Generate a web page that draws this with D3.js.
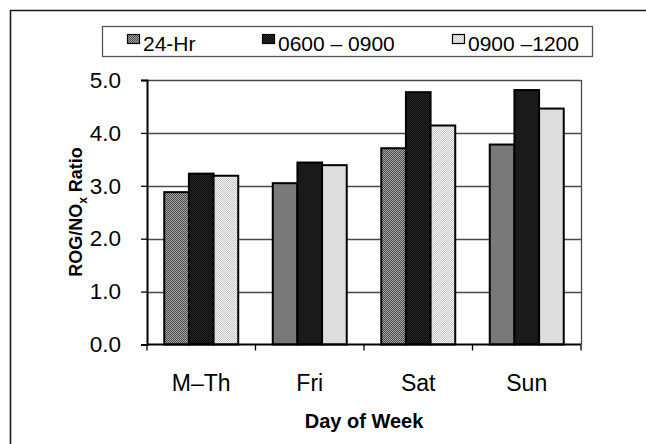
<!DOCTYPE html>
<html>
<head>
<meta charset="utf-8">
<script src="https://cdn.jsdelivr.net/npm/d3@7"></script>
<style>
  html, body { margin: 0; padding: 0; background: #fff; }
  svg { display: block; font-family: Arial, "Liberation Sans", Helvetica, sans-serif; }
</style>
</head>
<body>
<svg id="chart" width="646" height="444"></svg>
<script>
// Day-of-week groups
const categories = ["M\u2013Th", "Fri", "Sat", "Sun"];
// Averaging periods
const seriesNames = ["24-Hr", "0600 \u2013 0900", "0900 \u20131200"];
// ROG/NOx ratio per period, in category order
const values24Hr  = [2.88, 3.05, 3.71, 3.78];
const values0600  = [3.23, 3.44, 4.77, 4.81];
const values0900  = [3.19, 3.39, 4.14, 4.46];
const yTicks = [0, 1, 2, 3, 4, 5];

const seriesValues = [values24Hr, values0600, values0900];

const svg = d3.select("#chart");
const W = 646, H = 444;

// Dithered fills, one per series
const defs = svg.append("defs");
const fills = [
  { id: "fill24", a: "#4a4a4a", b: "#a8a8a8" },
  { id: "fill06", a: "#0a0a0a", b: "#2a2a2a" },
  { id: "fill09", a: "#c8c8c8", b: "#f2f2f2" }
];
fills.forEach(f => {
  const p = defs.append("pattern")
    .attr("id", f.id)
    .attr("patternUnits", "userSpaceOnUse")
    .attr("width", 2).attr("height", 2);
  p.append("rect").attr("width", 2).attr("height", 2).attr("fill", f.a);
  p.append("rect").attr("width", 1).attr("height", 1).attr("fill", f.b);
  p.append("rect").attr("x", 1).attr("y", 1).attr("width", 1).attr("height", 1).attr("fill", f.b);
});

// Outer frame (left and top edges)
svg.append("path")
  .attr("d", `M10.5,${H} V10.5 H${W}`)
  .attr("fill", "none")
  .attr("stroke", "#1a1a1a")
  .attr("stroke-width", 1.6);

const plot = { left: 147, right: 581, top: 80, bottom: 344.5 };

const x = d3.scaleBand()
  .domain(categories)
  .range([plot.left, plot.right])
  .paddingInner(0).paddingOuter(0);

// Excel-style gap width of 140% of one bar
const barW = x.bandwidth() / (seriesNames.length + 1.4);
const xs = d3.scaleBand()
  .domain(d3.range(seriesNames.length))
  .range([0.7 * barW, x.bandwidth() - 0.7 * barW])
  .padding(0);

const y = d3.scaleLinear()
  .domain([0, 5])
  .range([plot.bottom, plot.top]);

// Gridlines
svg.append("g")
  .selectAll("line")
  .data(yTicks.filter(t => t > 0))
  .join("line")
  .attr("x1", plot.left).attr("x2", plot.right)
  .attr("y1", d => Math.round(y(d)) + 0.5)
  .attr("y2", d => Math.round(y(d)) + 0.5)
  .attr("stroke", "#4a4a4a")
  .attr("stroke-width", 1.3);

// Plot area right edge
svg.append("line")
  .attr("x1", plot.right + 0.5).attr("x2", plot.right + 0.5)
  .attr("y1", y(5)).attr("y2", plot.bottom)
  .attr("stroke", "#4a4a4a")
  .attr("stroke-width", 1.3);

// Bars
const groups = svg.append("g")
  .selectAll("g")
  .data(categories)
  .join("g")
  .attr("transform", d => `translate(${x(d)},0)`);

groups.selectAll("rect")
  .data((c, ci) => seriesValues.map((vals, si) => ({ si, v: vals[ci] })))
  .join("rect")
  .attr("x", d => xs(d.si))
  .attr("width", xs.bandwidth())
  .attr("y", d => y(d.v))
  .attr("height", d => y(0) - y(d.v))
  .attr("fill", d => `url(#${fills[d.si].id})`)
  .attr("stroke", "#000")
  .attr("stroke-width", 2);

// Y axis
const yAxis = d3.axisLeft(y)
  .tickValues(yTicks)
  .tickFormat(d3.format(".1f"))
  .tickSize(6)
  .tickPadding(20);

const gy = svg.append("g")
  .attr("transform", `translate(${plot.left},0)`)
  .call(yAxis);
gy.select(".domain").attr("stroke", "#000").attr("stroke-width", 2);
gy.selectAll(".tick line").attr("stroke", "#000").attr("stroke-width", 1.3);
gy.selectAll(".tick text")
  .attr("font-size", 22.5)
  .attr("fill", "#000")
  .attr("font-family", "Arial, 'Liberation Sans', sans-serif");

// X axis: ticks at category boundaries
const gx = svg.append("g")
  .attr("transform", `translate(0,${plot.bottom})`);
gx.append("line")
  .attr("x1", plot.left).attr("x2", plot.right)
  .attr("stroke", "#000").attr("stroke-width", 2);
gx.selectAll(".bound")
  .data(categories.map(c => x(c)).concat([plot.right]))
  .join("line")
  .attr("class", "bound")
  .attr("x1", d => d).attr("x2", d => d)
  .attr("y1", 0).attr("y2", 6)
  .attr("stroke", "#000").attr("stroke-width", 1.3);
gx.selectAll(".cat")
  .data(categories)
  .join("text")
  .attr("class", "cat")
  .attr("x", d => x(d) + x.bandwidth() / 2)
  .attr("y", 46)
  .attr("text-anchor", "middle")
  .attr("font-size", 23)
  .attr("fill", "#000")
  .text(d => d);

// Axis titles
svg.append("text")
  .attr("x", (plot.left + plot.right) / 2)
  .attr("y", 428)
  .attr("text-anchor", "middle")
  .attr("font-size", 20)
  .attr("font-weight", "bold")
  .attr("fill", "#000")
  .text("Day of Week");

const yt = svg.append("text")
  .attr("transform", "translate(82,212) rotate(-90)")
  .attr("text-anchor", "middle")
  .attr("font-size", 18)
  .attr("font-weight", "bold")
  .attr("fill", "#000");
yt.append("tspan").text("ROG/NO");
yt.append("tspan").attr("font-size", 12).attr("dy", 5).text("x");
yt.append("tspan").attr("dy", -5).text(" Ratio");

// Legend
const legend = svg.append("g");
legend.append("rect")
  .attr("x", 102.5).attr("y", 26.5)
  .attr("width", 490).attr("height", 30)
  .attr("fill", "#fff")
  .attr("stroke", "#555")
  .attr("stroke-width", 1.3);

const legendX = [127, 262, 452];
const items = legend.selectAll(".item")
  .data(seriesNames)
  .join("g")
  .attr("class", "item")
  .attr("transform", (d, i) => `translate(${legendX[i]},0)`);
items.append("rect")
  .attr("x", 0.5).attr("y", 34.5)
  .attr("width", 12).attr("height", 9)
  .attr("fill", (d, i) => `url(#${fills[i].id})`)
  .attr("stroke", "#000")
  .attr("stroke-width", 1.2);
items.append("text")
  .attr("x", 16)
  .attr("y", 51)
  .attr("font-size", 21)
  .attr("fill", "#000")
  .text(d => d);
</script>
</body>
</html>
